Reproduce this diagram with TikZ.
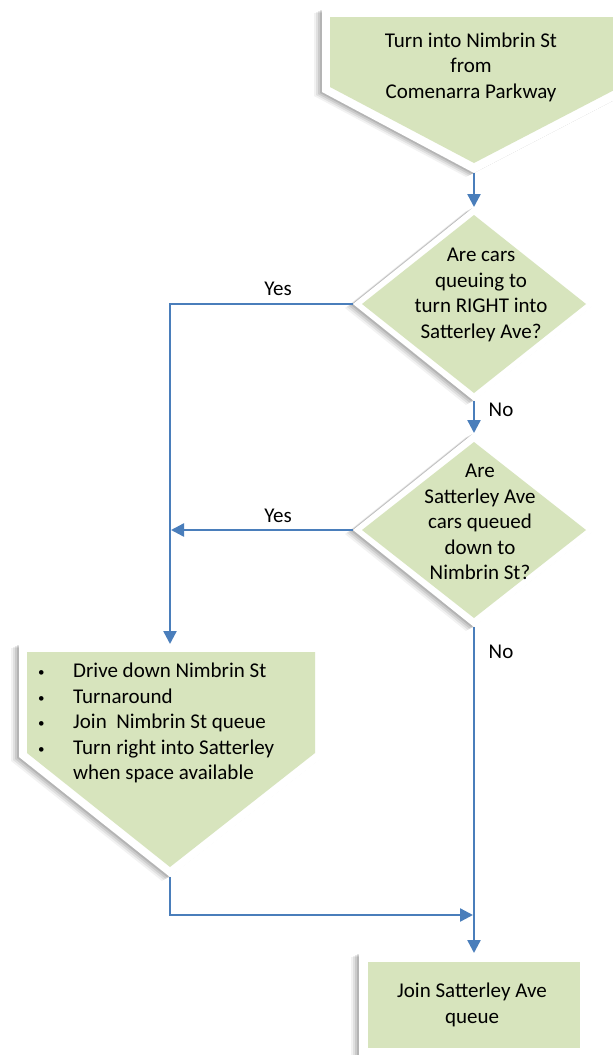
\documentclass[tikz,border=0pt]{standalone}
\usepackage{fontspec}
\setmainfont{Carlito}
\usetikzlibrary{arrows.meta}
\definecolor{fillg}{HTML}{D7E4BD}
\definecolor{lineb}{HTML}{4A7EBB}
\newcommand\castshadow[1]{%
  \foreach \s/\o in {8/0.05,6/0.07,4/0.09,2/0.11}{\fill[black,opacity=\o,shift={(-\s,\s*0.5)}] #1;}}
\newcommand\bul{\makebox[38pt][l]{\hspace{3pt}\raisebox{1pt}{\fontsize{13}{13}\selectfont •}}}
\begin{document}
\begin{tikzpicture}[x=1pt,y=-1pt,
  conn/.style={draw=lineb, line width=2.4pt},
  arr/.style={conn, -{Triangle[width=13pt,length=13pt]}},
  txt/.style={inner sep=0pt, font=\fontsize{21}{25.5}\selectfont, align=center, text=black},
  lbl/.style={inner sep=0pt, font=\fontsize{21}{25}\selectfont, text=black}]
\clip (0,0) rectangle (613,1055);
\fill[white] (0,0) rectangle (613,1055);

% ---- top off-page connector
\castshadow{(322,9) -- (630,9) -- (630,92) -- (474,173) -- (322,92) -- cycle}
\fill[white] (322,9) -- (630,9) -- (630,92) -- (474,173) -- (322,92) -- cycle;
\fill[fillg] (330,17) -- (620,17) -- (620,87) -- (474,163) -- (330,87) -- cycle;
\coordinate (p1tip) at (474,173);
\node[txt] (t1) at (471,67) {Turn into Nimbrin St\\from\\Comenarra Parkway};

% ---- decision 1
\castshadow{(474,207) -- (595,304) -- (474,401) -- (353,304) -- cycle}
\fill[white] (474,207) -- (595,304) -- (474,401) -- (353,304) -- cycle;
\fill[fillg] (474,215) -- (586,304) -- (474,393) -- (362,304) -- cycle;
\coordinate (d1top) at (474,207);
\coordinate (d1left) at (353,304);
\coordinate (d1bot) at (474,401);
\node[txt] (t2) at (481,295) {Are cars\\queuing to\\turn RIGHT into\\Satterley Ave?};

% ---- decision 2
\castshadow{(474,433) -- (595,530) -- (474,627) -- (353,530) -- cycle}
\fill[white] (474,433) -- (595,530) -- (474,627) -- (353,530) -- cycle;
\fill[fillg] (474,442) -- (586,530) -- (474,618) -- (362,530) -- cycle;
\coordinate (d2top) at (474,433);
\coordinate (d2left) at (353,530);
\coordinate (d2bot) at (474,627);
\node[txt] (t3) at (480,522) {Are\\Satterley Ave\\cars queued\\down to\\Nimbrin St?};

% ---- left off-page connector
\castshadow{(19,644) -- (323,644) -- (323,757) -- (170,877) -- (19,757) -- cycle}
\fill[white] (19,644) -- (323,644) -- (323,757) -- (170,877) -- (19,757) -- cycle;
\fill[fillg] (27,652) -- (315,652) -- (315,753) -- (170,867) -- (27,753) -- cycle;
\coordinate (p2top) at (170,644);
\coordinate (p2tip) at (170,877);
\node[txt, align=left, anchor=north west] (t4) at (35,663) {%
\bul Drive down Nimbrin St\\
\bul Turnaround\\
\bul Join\ \ Nimbrin St queue\\
\bul Turn right into Satterley\\
\makebox[38pt][l]{}when space available};

% ---- final box
\castshadow{(359,953) rectangle (589,1060)}
\fill[white] (359,953) rectangle (589,1060);
\fill[fillg] (368,962) rectangle (580,1048);
\coordinate (boxtop) at (474,953);
\node[txt] (t5) at (472,1005) {Join Satterley Ave\\queue};

% ---- connectors
\coordinate (leftA) at (170,304);
\coordinate (leftB) at (171,530);
\coordinate (corner) at (170,915);
\coordinate (joinpt) at (473,915);
\draw[arr] (p1tip) -- (d1top);
\draw[arr] (d1left) -- (leftA) -- (p2top);
\draw[arr] (d1bot) -- (d2top);
\draw[arr] (d2left) -- (leftB);
\draw[arr] (d2bot) -- (boxtop);
\draw[arr] (p2tip) -- (corner) -- (joinpt);

% ---- labels
\node[lbl] (yes1) at (278,289) {Yes};
\node[lbl] (yes2) at (278,516) {Yes};
\node[lbl] (no1) at (501,410) {No};
\node[lbl] (no2) at (501,652) {No};
\end{tikzpicture}
\end{document}
